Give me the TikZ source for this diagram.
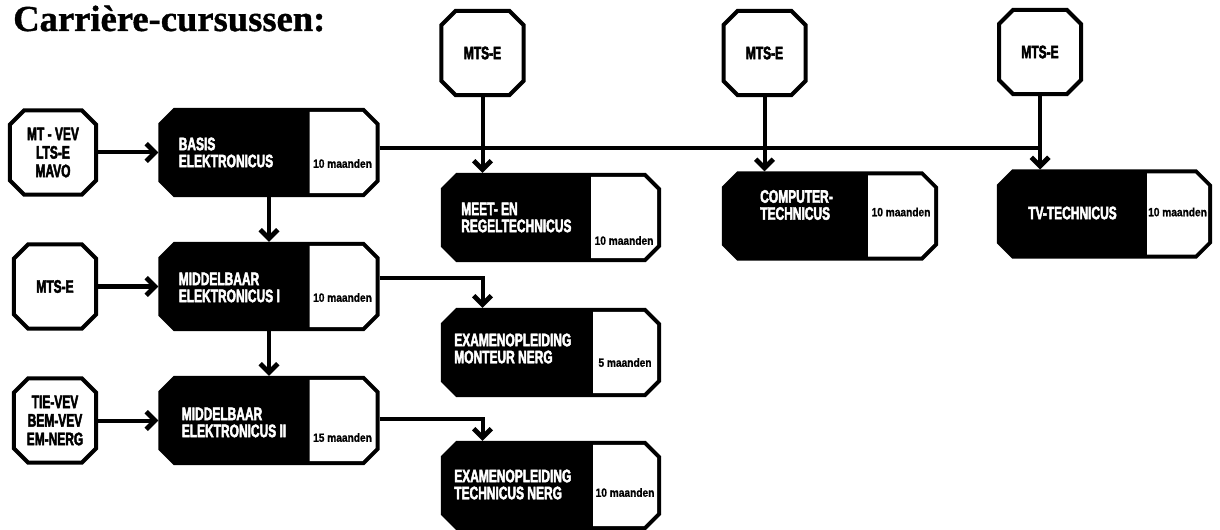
\documentclass[tikz,border=0pt]{standalone}
\usepackage{fontspec}
\setmainfont{Liberation Serif}[BoldFeatures={FakeBold=1}]
\newfontfamily\condfont{Liberation Sans}[FakeStretch=0.66, BoldFeatures={FakeBold=2.5}]
\newfontfamily\durfont{Liberation Sans}[FakeStretch=0.85, BoldFeatures={FakeBold=1}]
\usetikzlibrary{arrows.meta,positioning}

% box with cut-off corners
\makeatletter
\newdimen\cbL \newdimen\cbR \newdimen\cbB \newdimen\cbT
\newdimen\cbc \newdimen\cbl \newdimen\cbo
\tikzset{cut size/.initial=0.35cm, left cut size/.initial=0.35cm}
\pgfdeclareshape{cutbox}{%
  \inheritsavedanchors[from=rectangle]%
  \inheritanchorborder[from=rectangle]%
  \inheritanchor[from=rectangle]{center}%
  \inheritanchor[from=rectangle]{north}%
  \inheritanchor[from=rectangle]{south}%
  \inheritanchor[from=rectangle]{east}%
  \inheritanchor[from=rectangle]{west}%
  \inheritanchor[from=rectangle]{north east}%
  \inheritanchor[from=rectangle]{north west}%
  \inheritanchor[from=rectangle]{south east}%
  \inheritanchor[from=rectangle]{south west}%
  \inheritanchor[from=rectangle]{text}%
  \inheritanchor[from=rectangle]{base}%
  \inheritanchor[from=rectangle]{mid}%
  \backgroundpath{%
    \pgfmathsetlength\cbc{\pgfkeysvalueof{/tikz/cut size}}%
    \pgfmathsetlength\cbl{\pgfkeysvalueof{/tikz/left cut size}}%
    \pgfmathsetlength\cbo{\pgfkeysvalueof{/pgf/outer xsep}}%
    \southwest \cbL=\pgf@x \cbB=\pgf@y
    \northeast \cbR=\pgf@x \cbT=\pgf@y
    \advance\cbL by \cbo \advance\cbB by \cbo
    \advance\cbR by -\cbo \advance\cbT by -\cbo
    \pgfpathmoveto{\pgfpoint{\cbL+\cbl}{\cbB}}%
    \pgfpathlineto{\pgfpoint{\cbR-\cbc}{\cbB}}%
    \pgfpathlineto{\pgfpoint{\cbR}{\cbB+\cbc}}%
    \pgfpathlineto{\pgfpoint{\cbR}{\cbT-\cbc}}%
    \pgfpathlineto{\pgfpoint{\cbR-\cbc}{\cbT}}%
    \pgfpathlineto{\pgfpoint{\cbL+\cbl}{\cbT}}%
    \pgfpathlineto{\pgfpoint{\cbL}{\cbT-\cbl}}%
    \pgfpathlineto{\pgfpoint{\cbL}{\cbB+\cbl}}%
    \pgfpathclose
  }%
}
\makeatother

\tikzset{
  entry/.style={shape=cutbox, draw, line width=0.1cm, fill=white,
    inner sep=0pt, outer sep=0.05cm, minimum width=2.05cm,
    minimum height=2.1cm, align=center,
    font=\condfont\bfseries\fontsize{12.9}{13.2}\selectfont},
  course/.style={shape=cutbox, draw, line width=0.1cm, fill=black,
    inner sep=0pt, outer sep=0.05cm, minimum width=5.425cm,
    minimum height=2.125cm},
  months/.style={shape=cutbox, cut size=0.32cm, left cut size=0pt,
    fill=white, inner sep=0pt, outer sep=0pt, minimum width=1.65cm,
    minimum height=2.025cm, anchor=east},
  coursename/.style={text=white, align=left, inner sep=0pt,
    font=\condfont\bfseries\fontsize{12.9}{12.1}\selectfont},
  dur/.style={inner sep=0pt, font=\durfont\bfseries\fontsize{8.5}{10}\selectfont},
  conn/.style={line width=0.1cm},
  arr/.style={conn, -{Straight Barb[length=0.22cm,width=0.44cm,line width=0.12cm]}},
}

\begin{document}
\begin{tikzpicture}[x=0.025cm,y=-0.025cm]
\useasboundingbox (0,0) rectangle (1220,530);
\node[anchor=base west, inner sep=0pt, font=\bfseries\fontsize{26}{30}\selectfont]
    (title) at (13,31) {Carrière-cursussen:};

% vooropleidingen
\node[entry, minimum width=2.15cm] (vooropl1) at (53,152.5) {MT - VEV\\LTS-E\\MAVO};
\node[entry] (vooropl2) at (55,286.5) {MTS-E};
\node[entry] (vooropl3) at (55,420.5) {TIE-VEV\\BEM-VEV\\EM-NERG};
\node[entry] (mts1) at (482.5,53) {MTS-E};
\node[entry] (mts2) at (764.5,53) {MTS-E};
\node[entry] (mts3) at (1040,52) {MTS-E};

% cursussen
\node[course] (basis) at (269,152.5) {};
\node[months] (basis-m) at ([xshift=-0.1cm]basis.east) {};
\node[coursename, right=0.5cm of basis.west] (basis-t) {BASIS\\ELEKTRONICUS};
\node[dur] (basis-d) at ([yshift=-0.275cm]basis-m) {10 maanden};

\node[course] (mid1) at (269,286.5) {};
\node[months] (mid1-m) at ([xshift=-0.1cm]mid1.east) {};
\node[coursename, right=0.5cm of mid1.west, yshift=-0.025cm] (mid1-t) {MIDDELBAAR\\ELEKTRONICUS I};
\node[dur] (mid1-d) at ([yshift=-0.275cm]mid1-m) {10 maanden};

\node[course] (mid2) at (269,420.5) {};
\node[months] (mid2-m) at ([xshift=-0.1cm]mid2.east) {};
\node[coursename, right=0.575cm of mid2.west, yshift=-0.05cm] (mid2-t) {MIDDELBAAR\\ELEKTRONICUS II};
\node[dur] (mid2-d) at ([yshift=-0.425cm]mid2-m) {15 maanden};

\node[course, minimum width=5.4cm] (meet) at (551,217.5) {};
\node[months] (meet-m) at ([xshift=-0.1cm]meet.east) {};
\node[coursename, right=0.5cm of meet.west] (meet-t) {MEET- EN\\REGELTECHNICUS};
\node[dur] (meet-d) at ([yshift=-0.575cm]meet-m) {10 maanden};

\node[course, minimum width=5.3cm] (computer) at (830,216) {};
\node[months] (computer-m) at ([xshift=-0.1cm]computer.east) {};
\node[coursename, right=0.95cm of computer.west, yshift=0.275cm] (computer-t) {COMPUTER-\\TECHNICUS};
\node[dur] (computer-d) at ([yshift=0.1cm]computer-m) {10 maanden};

\node[course, minimum width=5.275cm] (tv) at (1104.5,214) {};
\node[months, minimum width=1.525cm] (tv-m) at ([xshift=-0.1cm]tv.east) {};
\node[coursename, right=0.775cm of tv.west, yshift=0.025cm] (tv-t) {TV-TECHNICUS};
\node[dur] (tv-d) at ([yshift=0.05cm]tv-m) {10 maanden};

\node[course, minimum width=5.4cm] (exmon) at (551,352.5) {};
\node[months, minimum width=1.6cm] (exmon-m) at ([xshift=-0.1cm]exmon.east) {};
\node[coursename, right=0.325cm of exmon.west, yshift=0.1cm] (exmon-t) {EXAMENOPLEIDING\\MONTEUR NERG};
\node[dur] (exmon-d) at ([yshift=-0.25cm]exmon-m) {5 maanden};

\node[course, minimum width=5.4cm] (extech) at (551,485.5) {};
\node[months, minimum width=1.6cm] (extech-m) at ([xshift=-0.1cm]extech.east) {};
\node[coursename, right=0.325cm of extech.west, yshift=0.025cm] (extech-t) {EXAMENOPLEIDING\\TECHNICUS NERG};
\node[dur] (extech-d) at ([yshift=-0.175cm]extech-m) {10 maanden};

% verbindingen
\draw[arr] (vooropl1) -- (basis);
\draw[arr] (vooropl2) -- (mid1);
\draw[arr] (vooropl3) -- (mid2);
\draw[arr] (basis) -- (mid1);
\draw[arr] (mid1) -- (mid2);
\coordinate (bus) at ([yshift=0.1cm]basis.east);
\draw[conn] (bus) -- (bus -| mts3);
\draw[arr] (mts1) -- (mts1 |- meet.north);
\draw[arr] (mts2) -- (mts2 |- computer.north);
\draw[arr] (mts3) -- (mts3 |- tv.north);
\draw[arr] ([yshift=0.2cm]mid1.east) -| (mts1 |- exmon.north);
\draw[arr] ([yshift=0.05cm]mid2.east) -| (mts1 |- extech.north);
\end{tikzpicture}
\end{document}
